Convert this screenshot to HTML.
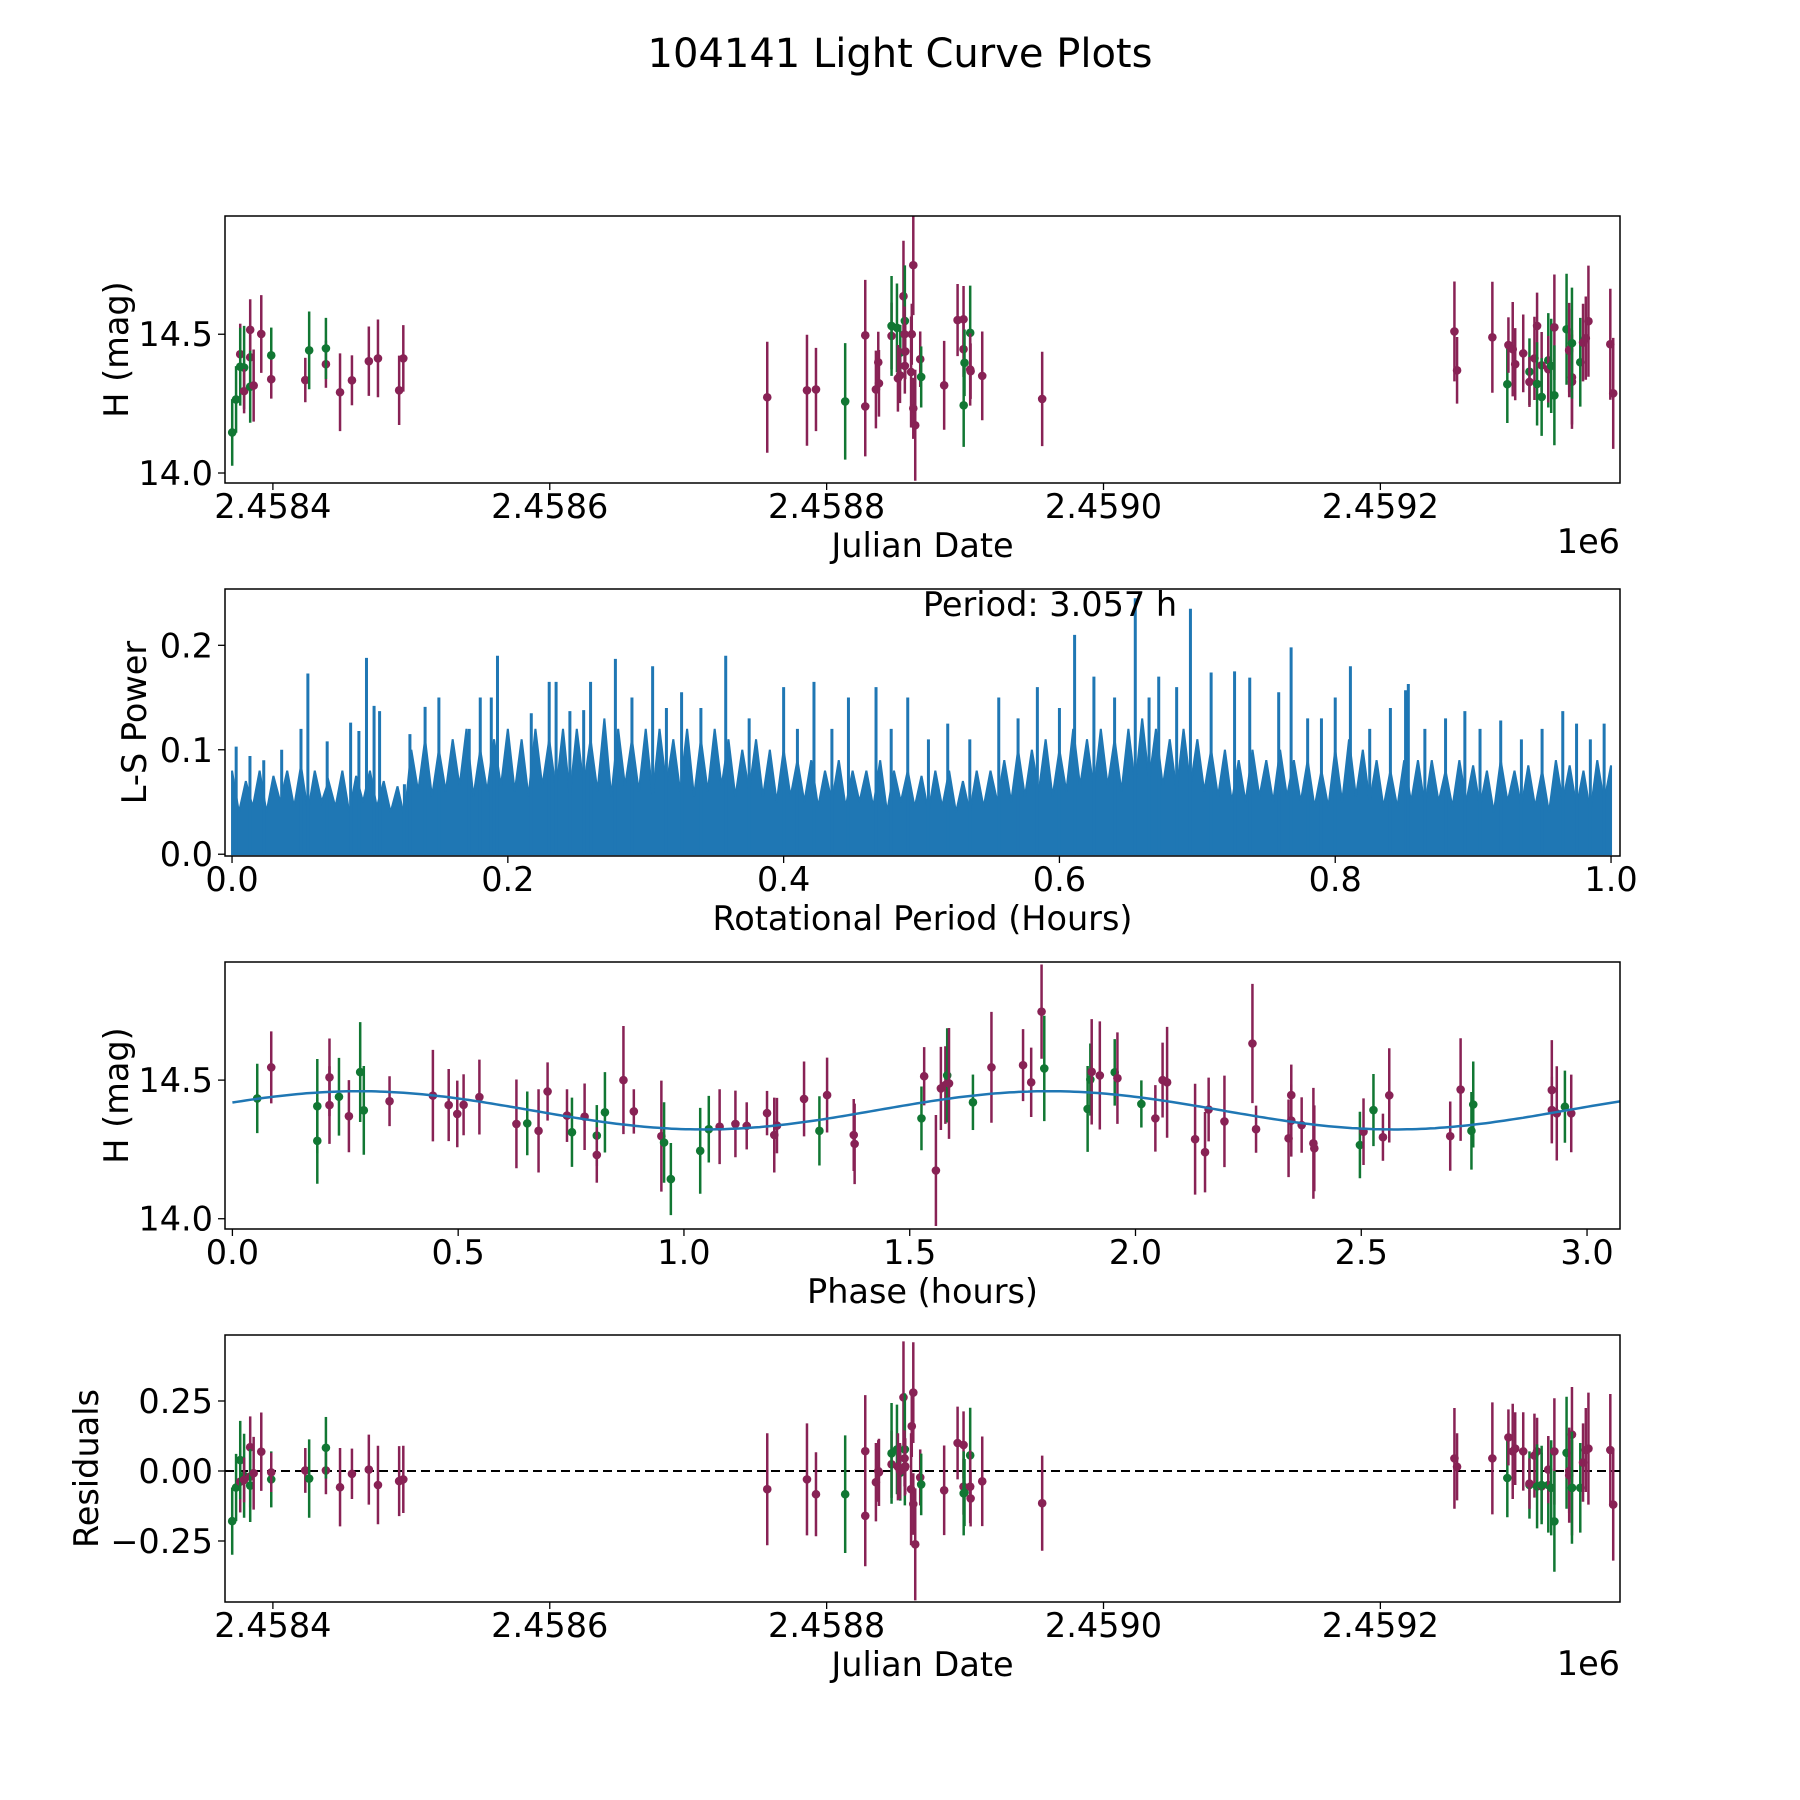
<!DOCTYPE html>
<html><head><meta charset="utf-8">
<style>
html,body{margin:0;padding:0;background:#fff;}
svg{display:block;font-family:"DejaVu Sans","Liberation Sans",sans-serif;}
</style></head>
<body>
<svg id="fig" width="1800" height="1800" viewBox="0 0 1800 1800" xmlns="http://www.w3.org/2000/svg">
<rect width="1800" height="1800" fill="#fff"/>
<text x="900" y="67" font-size="40" text-anchor="middle">104141 Light Curve Plots</text>
</svg>
<script>
// ---------- data ----------
const jdDates = [2458370.6,2458373.4,2458376.4,2458376.4,2458379.2,2458379.2,2458383.6,2458383.6,2458383.6,2458386.1,2458391.6,2458398.8,2458398.8,2458423.4,2458426.2,2458438.3,2458438.3,2458448.5,2458457.1,2458469.3,2458475.9,2458491.2,2458494.2,
2458757.1,2458785.8,2458792.3,2458813.4,2458827.9,2458827.9,2458835.6,2458837.3,2458837.8,2458846.9,2458846.9,2458850.8,2458853.2,2458851.5,2458855.5,2458856.5,2458856.3,2458856.8,2458856.5,2458853.0,2458861.5,2458861.0,2458862.6,2458862.6,2458864.0,2458867.6,2458868.3,2458884.9,2458894.6,2458898.9,2458898.9,2458899.6,2458899.0,2458903.7,2458903.7,2458904.0,2458912.4,2458955.7,
2459253.5,2459255.4,2459280.9,2459291.7,2459292.5,2459295.6,2459297.4,2459303.2,2459307.7,2459307.7,2459311.3,2459313.2,2459313.2,2459316.5,2459316.5,2459321.3,2459321.3,2459323.4,2459325.7,2459325.7,2459334.5,2459336.4,2459336.4,2459338.4,2459338.4,2459338.4,2459344.4,2459346.4,2459348.4,2459350.3,2459366.1,2459368.2];
const hMag = [14.146,14.265,14.428,14.383,14.38,14.295,14.516,14.417,14.311,14.315,14.501,14.424,14.338,14.335,14.442,14.392,14.449,14.291,14.334,14.403,14.413,14.298,14.413,
14.273,14.298,14.301,14.258,14.496,14.24,14.301,14.399,14.323,14.494,14.53,14.523,14.434,14.341,14.637,14.548,14.5,14.438,14.386,14.352,14.5,14.364,14.749,14.233,14.172,14.41,14.346,14.316,14.551,14.554,14.446,14.397,14.244,14.505,14.373,14.367,14.35,14.267,
14.51,14.37,14.489,14.32,14.461,14.446,14.392,14.431,14.365,14.328,14.413,14.53,14.321,14.388,14.274,14.406,14.374,14.386,14.525,14.28,14.518,14.443,14.441,14.329,14.345,14.468,14.399,14.47,14.486,14.547,14.464,14.287];
const hErr = [0.12,0.12,0.11,0.14,0.15,0.08,0.11,0.11,0.13,0.13,0.14,0.1,0.07,0.08,0.14,0.085,0.11,0.14,0.09,0.125,0.14,0.125,0.12,
0.2,0.2,0.15,0.21,0.2,0.18,0.14,0.11,0.12,0.12,0.18,0.16,0.1,0.12,0.2,0.2,0.1,0.1,0.1,0.1,0.11,0.2,0.18,0.11,0.2,0.1,0.11,0.16,0.13,0.12,0.1,0.12,0.15,0.17,0.13,0.1,0.16,0.17,
0.18,0.12,0.2,0.14,0.1,0.17,0.13,0.14,0.12,0.09,0.15,0.12,0.15,0.12,0.14,0.17,0.12,0.17,0.19,0.18,0.2,0.17,0.15,0.17,0.17,0.2,0.16,0.14,0.15,0.2,0.2,0.2];
const band = "ggmggmmmgmmgmmgmgmmmmmm"+"mmmgmmmmmmgggmmgmmmmmmmmmmgmmmmgggmmmm"+"mmmgmmmmgmmmgmggmgmggmmmmggmmmmm";
const residuals = [-0.179,-0.059,-0.038,0.039,-0.017,-0.032,0.085,-0.02,-0.052,-0.008,0.069,-0.03,-0.005,0.002,-0.027,0.002,0.083,-0.058,-0.01,0.005,-0.05,-0.036,-0.03,
-0.065,-0.03,-0.083,-0.083,0.071,-0.16,-0.04,0.0,-0.005,0.024,0.063,0.077,-0.006,0.015,0.263,0.077,0.045,0.017,0.012,0.0,0.16,-0.065,0.28,-0.118,-0.262,-0.023,-0.048,-0.069,0.1,0.093,-0.056,-0.077,-0.08,0.056,-0.056,-0.098,-0.037,-0.115,
0.045,0.015,0.045,-0.025,0.12,0.07,0.08,0.07,-0.05,-0.045,0.055,0.07,-0.055,-0.055,-0.05,-0.05,0.005,-0.06,0.07,-0.18,0.065,-0.015,0.0,-0.06,0.13,-0.06,-0.06,0.03,0.075,0.08,0.075,-0.12];

// phase-folded data
const phaseHours = [0.055,0.086,0.188,0.188,0.215,0.215,0.236,0.258,0.283,0.291,0.348,0.444,0.479,0.498,0.512,0.547,0.629,0.653,0.678,0.698,0.741,0.752,0.780,0.807,0.807,0.825,0.866,0.889,0.950,0.956,0.971,1.036,1.055,1.079,1.114,1.139,1.184,1.200,1.206,1.266,1.300,1.317,1.376,1.378,1.526,1.532,1.558,1.569,1.579,1.583,1.587,1.640,1.681,1.751,1.769,1.792,1.798,1.894,1.900,1.903,1.921,1.954,1.960,2.013,2.044,2.060,2.070,2.132,2.154,2.162,2.197,2.259,2.267,2.339,2.345,2.345,2.368,2.394,2.396,2.497,2.505,2.527,2.548,2.562,2.697,2.720,2.744,2.748,2.922,2.922,2.933,2.951,2.965];
const phaseMag = [14.434,14.546,14.406,14.281,14.51,14.41,14.44,14.37,14.529,14.391,14.424,14.444,14.41,14.378,14.411,14.439,14.342,14.344,14.317,14.459,14.372,14.312,14.368,14.30,14.23,14.384,14.50,14.387,14.298,14.275,14.143,14.245,14.323,14.332,14.342,14.335,14.381,14.302,14.336,14.432,14.317,14.446,14.302,14.27,14.362,14.514,14.174,14.47,14.482,14.517,14.488,14.42,14.546,14.554,14.492,14.747,14.542,14.396,14.502,14.53,14.517,14.528,14.507,14.414,14.362,14.50,14.492,14.287,14.24,14.394,14.351,14.632,14.323,14.29,14.446,14.354,14.338,14.272,14.254,14.266,14.314,14.392,14.294,14.445,14.298,14.466,14.317,14.412,14.464,14.392,14.38,14.404,14.38];
const phaseErr = [0.125,0.13,0.17,0.155,0.14,0.14,0.14,0.13,0.18,0.16,0.09,0.165,0.13,0.12,0.11,0.135,0.16,0.115,0.15,0.105,0.095,0.125,0.12,0.11,0.1,0.145,0.195,0.08,0.2,0.145,0.13,0.155,0.12,0.135,0.12,0.085,0.08,0.135,0.1,0.135,0.125,0.135,0.13,0.145,0.115,0.105,0.2,0.15,0.14,0.17,0.2,0.1,0.2,0.13,0.125,0.17,0.19,0.155,0.13,0.19,0.195,0.12,0.165,0.085,0.12,0.135,0.2,0.2,0.145,0.115,0.165,0.215,0.085,0.14,0.11,0.13,0.1,0.2,0.155,0.12,0.12,0.13,0.085,0.17,0.125,0.185,0.14,0.155,0.18,0.12,0.17,0.13,0.14];
const phaseBand = "gmggmmgmggmmmmmmmgmmmgmgmgmmmggggmmmmmmmgmmmgmmmmgmgmmmmgggmmgmgmmmmmmmmmmmmmmmgmgmmmmggmmmgmg";
// fitted model: mean, amplitude, peak phase, model period (hours)
const modelParams = [14.391, 0.069, 0.28, 1.5285];

// periodogram
const periodHoursMid = [];
for (let i = 0; i <= 100; i++) periodHoursMid.push(i / 100);
const powerMid = [0.08,0.07,0.08,0.075,0.08,0.085,0.08,0.07,0.08,0.075,0.08,0.07,0.065,
0.10,0.11,0.10,0.11,0.12,0.10,0.11,0.12,0.11,0.12,0.11,0.12,0.12,0.11,0.13,0.12,0.11,0.12,0.12,0.11,0.12,0.11,0.12,0.11,0.10,0.11,0.10,0.10,
0.09,0.09,0.08,0.09,0.08,0.08,0.09,0.08,0.08,0.075,0.08,0.08,0.07,0.08,0.08,
0.09,0.10,0.10,0.11,0.10,0.12,0.11,0.12,0.11,0.12,0.13,0.12,0.11,0.12,0.11,0.10,0.10,
0.09,0.10,0.09,0.10,0.09,0.09,0.08,0.10,0.11,0.10,0.09,0.08,0.09,
0.09,0.09,0.08,0.09,0.085,0.08,0.09,0.08,0.085,0.08,0.09,0.085,0.08,0.09,0.085];
const powerFloor = [0.04,0.045,0.04,0.05,0.045,0.04,0.05,0.045,0.04,0.05,0.045,0.04,0.035,
0.06,0.055,0.06,0.065,0.055,0.06,0.065,0.06,0.055,0.065,0.06,0.055,0.065,0.06,0.055,0.065,0.06,0.055,0.065,0.06,0.055,0.06,0.065,0.055,0.06,0.055,0.05,0.055,
0.05,0.045,0.05,0.045,0.05,0.045,0.04,0.05,0.045,0.04,0.045,0.04,0.04,0.045,0.05,
0.05,0.055,0.06,0.055,0.06,0.065,0.06,0.065,0.06,0.065,0.07,0.065,0.06,0.065,0.06,0.055,0.05,
0.05,0.055,0.05,0.055,0.05,0.045,0.045,0.05,0.055,0.05,0.045,0.045,0.05,
0.045,0.05,0.045,0.05,0.045,0.04,0.05,0.045,0.045,0.04,0.05,0.045,0.04,0.05,0.045];
const peakHours = [0.003,0.013,0.023,0.036,0.05,0.055,0.069,0.086,0.092,0.0975,0.103,0.107,0.125,0.129,0.14,0.15,0.172,0.18,0.188,0.1925,0.217,0.23,0.235,0.245,0.255,0.26,0.278,0.29,0.305,0.315,0.326,0.34,0.358,0.375,0.40,0.41,0.422,0.435,0.447,0.467,0.478,0.49,0.505,0.519,0.535,0.556,0.57,0.584,0.60,0.611,0.625,0.64,0.655,0.665,0.672,0.685,0.695,0.71,0.727,0.738,0.759,0.768,0.78,0.79,0.80,0.811,0.825,0.84,0.851,0.853,0.865,0.88,0.894,0.905,0.92,0.935,0.95,0.965,0.975,0.985,0.995];
const peakPower = [0.103,0.094,0.09,0.10,0.12,0.173,0.108,0.126,0.118,0.188,0.142,0.137,0.067,0.115,0.141,0.15,0.12,0.15,0.15,0.19,0.135,0.165,0.165,0.137,0.138,0.165,0.187,0.15,0.18,0.14,0.155,0.14,0.19,0.13,0.16,0.12,0.165,0.12,0.15,0.16,0.12,0.15,0.11,0.125,0.11,0.15,0.13,0.16,0.14,0.21,0.17,0.15,0.245,0.15,0.17,0.16,0.235,0.174,0.175,0.169,0.155,0.198,0.13,0.13,0.15,0.18,0.12,0.14,0.157,0.163,0.12,0.13,0.137,0.12,0.128,0.11,0.12,0.137,0.125,0.11,0.125];

// tick labels
const jdTicks = [2458400,2458600,2458800,2459000,2459200];
const jdTickLabels = ["2.4584","2.4586","2.4588","2.4590","2.4592"];
const magTicks = [14.0,14.5], magTickLabels = ["14.0","14.5"];
const powTicks = [0,0.1,0.2], powTickLabels = ["0.0","0.1","0.2"];
const perTicks = [0,0.2,0.4,0.6,0.8,1.0], perTickLabels = ["0.0","0.2","0.4","0.6","0.8","1.0"];
const phTicks = [0,0.5,1,1.5,2,2.5,3], phTickLabels = ["0.0","0.5","1.0","1.5","2.0","2.5","3.0"];
const resTicks = [-0.25,0,0.25], resTickLabels = ["\u22120.25","0.00","0.25"];

// ---------- drawing ----------
const svg = document.getElementById('fig');
const NS = 'http://www.w3.org/2000/svg';
const COL = {m:'#882255', g:'#117733'};
const AX_L = 225, AX_R = 1620;
const FS = 33.5;
function mk(tag, attrs, parent){
  const e = document.createElementNS(NS, tag);
  for (const k in attrs) e.setAttribute(k, attrs[k]);
  (parent||svg).appendChild(e); return e;
}
function lin(d0,d1,p0,p1){ return v => p0 + (v-d0)*(p1-p0)/(d1-d0); }

function axes(top, bottom, xs, ys, xt, xtl, yt, ytl, xlabel, ylabel, ylabelX, name){
  const g = mk('g', {});
  
  
  xt.forEach((v,i)=>{
    const x = xs(v);
    mk('line',{x1:x,x2:x,y1:bottom,y2:bottom+7,stroke:'#000','stroke-width':1.3},g);
    const t = mk('text',{x:x,y:bottom+35,'font-size':FS,'text-anchor':'middle'},g);
    t.textContent = xtl[i];
    
    
  });
  yt.forEach((v,i)=>{
    const y = ys(v);
    mk('line',{x1:AX_L-7,x2:AX_L,y1:y,y2:y,stroke:'#000','stroke-width':1.3},g);
    const t = mk('text',{x:AX_L-12,y:y+12,'font-size':FS,'text-anchor':'end'},g);
    t.textContent = ytl[i];
    
    
  });
  const xl = mk('text',{x:(AX_L+AX_R)/2,y:bottom+74,'font-size':FS,'text-anchor':'middle'},g);
  xl.textContent = xlabel;
  
  
  const cy = (top+bottom)/2;
  const yl = mk('text',{x:ylabelX,y:cy,'font-size':FS,'text-anchor':'middle',transform:`rotate(-90 ${ylabelX} ${cy})`},g);
  yl.textContent = ylabel;
  
  
  return g;
}
function frame(top,bottom){
  mk('rect',{x:AX_L,y:top,width:AX_R-AX_L,height:bottom-top,fill:'none',stroke:'#000','stroke-width':1.5});
}
function errPoints(xsArr, ysArr, errArr, bands, xs, ys, clipId, name){
  const g = mk('g',{'clip-path':`url(#${clipId})`});
  
  
  xsArr.forEach((xv,i)=>{
    const c = COL[bands[i]] || COL.m;
    const x = xs(xv), y = ys(ysArr[i]);
    mk('line',{x1:x,x2:x,y1:ys(ysArr[i]+errArr[i]),y2:ys(ysArr[i]-errArr[i]),stroke:c,'stroke-width':2.5},g);
    const p = mk('circle',{cx:x,cy:y,r:4.3,fill:c},g);
    
    
  });
}
const defs = mk('defs',{});
function clip(id, top, bottom){
  const cp = mk('clipPath',{id:id},defs);
  mk('rect',{x:AX_L,y:top,width:AX_R-AX_L,height:bottom-top},cp);
}

// Panel 1
(function(){
  const top=216,bottom=483;
  const xs = lin(2458365.4,2459373.1,AX_L,AX_R);
  const ys = lin(13.964,14.926,bottom,top);
  clip('c1',top,bottom);
  axes(top,bottom,xs,ys,jdTicks,jdTickLabels,magTicks,magTickLabels,'Julian Date','H (mag)',128,'lightcurve');
  errPoints(jdDates,hMag,hErr,band,xs,ys,'c1','lightcurve-points');
  frame(top,bottom);
  const o = mk('text',{x:AX_R,y:553,'font-size':FS,'text-anchor':'end'});
  o.textContent='1e6';
  
  
})();

// Panel 2
(function(){
  const top=589,bottom=856;
  const xs = lin(-0.0051,1.0065,AX_L,AX_R);
  const ys = lin(-0.0017,0.2539,bottom,top);
  clip('c2',top,bottom);
  axes(top,bottom,xs,ys,perTicks,perTickLabels,powTicks,powTickLabels,'Rotational Period (Hours)','L-S Power',146,'periodogram');
  const g = mk('g',{'clip-path':'url(#c2)'});
  
  
  let d = `M${xs(periodHoursMid[0])},${ys(0)}`;
  periodHoursMid.forEach((h,i)=>{
    d += ` L${xs(h)},${ys(powerMid[i])}`;
    if (i < periodHoursMid.length-1) {
      const hm = (h + periodHoursMid[i+1]) / 2;
      d += ` L${xs(hm)},${ys(powerFloor[i])}`;
    }
  });
  d += ` L${xs(1)},${ys(0)} Z`;
  mk('path',{d:d,fill:'#1f77b4',stroke:'#1f77b4','stroke-width':2,'stroke-linejoin':'miter'},g);
  peakHours.forEach((h,i)=>{
    const s = mk('line',{x1:xs(h),x2:xs(h),y1:ys(0),y2:ys(peakPower[i]),stroke:'#1f77b4','stroke-width':3},g);
    
    
  });
  frame(top,bottom);
  const t = mk('text',{x:1050,y:616,'font-size':FS,'text-anchor':'middle'});
  t.textContent='Period: 3.057 h';
  
  
})();

// Panel 3
(function(){
  const top=962,bottom=1229;
  const xs = lin(-0.0164,3.073,AX_L,AX_R);
  const ys = lin(13.963,14.926,bottom,top);
  clip('c3',top,bottom);
  axes(top,bottom,xs,ys,phTicks,phTickLabels,magTicks,magTickLabels,'Phase (hours)','H (mag)',128,'phased');
  errPoints(phaseHours,phaseMag,phaseErr,phaseBand,xs,ys,'c3','phased-points');
  let d='';
  for(let k=0;k<=300;k++){
    const ph = k*3.073/300;
    const m = modelParams[0] + modelParams[1]*Math.cos(2*Math.PI*(ph-modelParams[2])/modelParams[3]);
    d += (k?' L':'M') + xs(ph).toFixed(1) + ',' + ys(m).toFixed(1);
  }
  const p = mk('path',{d:d,fill:'none',stroke:'#1f77b4','stroke-width':2.5,'clip-path':'url(#c3)'});
  
  
  frame(top,bottom);
})();

// Panel 4
(function(){
  const top=1335,bottom=1602;
  const xs = lin(2458365.4,2459373.1,AX_L,AX_R);
  const ys = lin(-0.4679,0.4857,bottom,top);
  clip('c4',top,bottom);
  axes(top,bottom,xs,ys,jdTicks,jdTickLabels,resTicks,resTickLabels,'Julian Date','Residuals',98,'residuals');
  const z = mk('line',{x1:AX_L,x2:AX_R,y1:ys(0),y2:ys(0),stroke:'#000','stroke-width':2,'stroke-dasharray':'9,5'});
  
  
  errPoints(jdDates,residuals,hErr,band,xs,ys,'c4','residual-points');
  frame(top,bottom);
  const o = mk('text',{x:AX_R,y:1675,'font-size':FS,'text-anchor':'end'});
  o.textContent='1e6';
  
  
})();
</script>
</body></html>
